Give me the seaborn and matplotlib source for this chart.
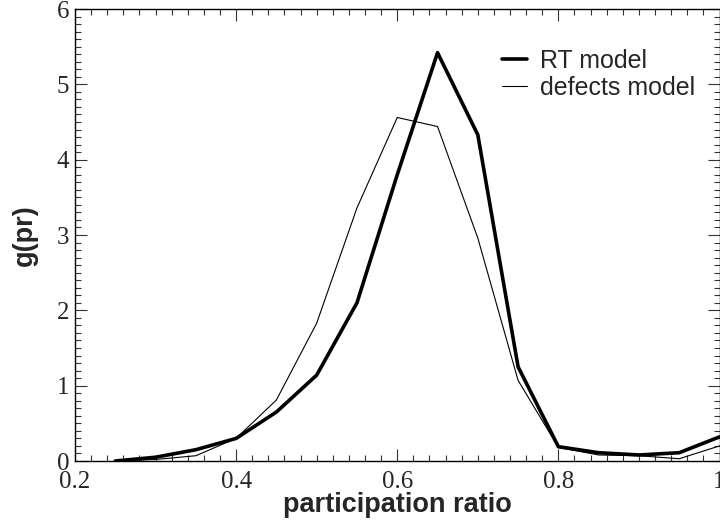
import matplotlib
matplotlib.use("Agg")
import matplotlib.pyplot as plt
import seaborn as sns
import pandas as pd
from matplotlib.ticker import MultipleLocator

# data
pr = [0.25, 0.30, 0.35, 0.40, 0.45, 0.50, 0.55, 0.60,
      0.65, 0.70, 0.75, 0.80, 0.85, 0.90, 0.95, 1.00]
rt_model = [0.0, 0.05, 0.15, 0.30, 0.65, 1.14, 2.10, 3.80,
            5.42, 4.33, 1.25, 0.19, 0.11, 0.08, 0.11, 0.32]
defects_model = [0.0, 0.02, 0.07, 0.30, 0.81, 1.83, 3.36, 4.56,
                 4.44, 2.96, 1.07, 0.18, 0.08, 0.07, 0.03, 0.20]
series_names = ["RT model", "defects model"]

df = pd.DataFrame({"pr": pr, "RT model": rt_model, "defects model": defects_model})

sns.set_style("ticks")
plt.rcParams["font.family"] = ["Liberation Sans", "DejaVu Sans"]

fig = plt.figure(figsize=(7.2, 5.28), dpi=100)
ax = fig.add_axes([75 / 720, 67 / 528, 644.5 / 720, 452 / 528])

sns.lineplot(data=df, x="pr", y="RT model", ax=ax, color="black", linewidth=2.6,
             label=series_names[0])
sns.lineplot(data=df, x="pr", y="defects model", ax=ax, color="black", linewidth=0.8,
             label=series_names[1])

ax.set_xlim(0.2, 1.0)
ax.set_ylim(0, 6)
ax.xaxis.set_major_locator(MultipleLocator(0.2))
ax.xaxis.set_minor_locator(MultipleLocator(0.02))
ax.yaxis.set_major_locator(MultipleLocator(1))
ax.yaxis.set_minor_locator(MultipleLocator(0.1))
ax.set_xticks([0.2, 0.4, 0.6, 0.8, 1.0])
ax.set_xticklabels(["0.2", "0.4", "0.6", "0.8", "1"])
ax.set_yticks([0, 1, 2, 3, 4, 5, 6])
ax.set_yticklabels(["0", "1", "2", "3", "4", "5", "6"])

for sp in ax.spines.values():
    sp.set_visible(True)
    sp.set_linewidth(1.0)
    sp.set_color("black")

ax.tick_params(which="both", direction="in", top=True, right=True, color="#333333", width=0.8)
ax.tick_params(which="major", length=8.6, pad=7)
ax.tick_params(which="minor", length=4.3)
for lab in ax.get_xticklabels() + ax.get_yticklabels():
    lab.set_fontfamily(["Liberation Serif", "DejaVu Serif"])
    lab.set_fontsize(18)
ax.tick_params(axis="y", pad=4)

ax.set_xlabel("participation ratio", fontsize=19.5, fontweight="bold", labelpad=-0.5)
ax.set_ylabel("g(pr)", fontsize=19.5, fontweight="bold", labelpad=14)

leg = ax.legend(loc="upper left", bbox_to_anchor=(0.662, 0.912), frameon=False,
                fontsize=18, handlelength=1.0, handletextpad=0.55,
                labelspacing=0.12, borderpad=0, borderaxespad=0)

fig.savefig("out.png", dpi=100)
